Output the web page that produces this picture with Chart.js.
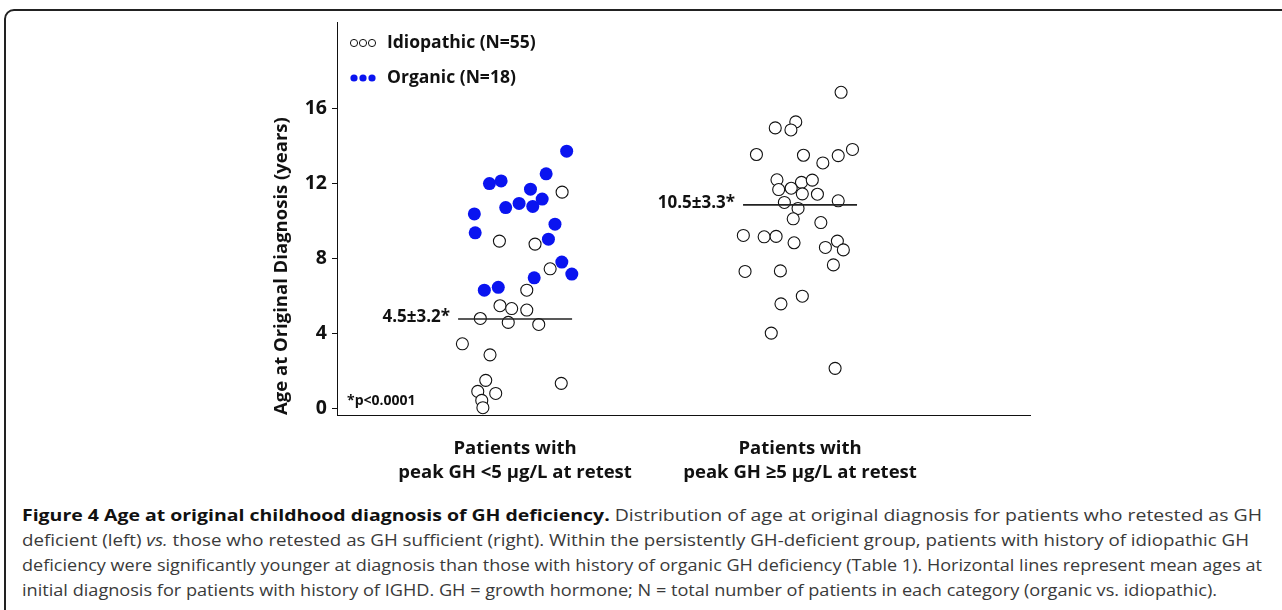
<!DOCTYPE html>
<html>
<head>
<meta charset="utf-8">
<script src="https://cdn.jsdelivr.net/npm/chart.js@4.4.1/dist/chart.umd.min.js"></script>
<style>
  body { margin: 0; background: #fff; width: 1282px; height: 610px; overflow: hidden; position: relative; }
  #frame { position: absolute; left: 4px; top: 9px; width: 1300px; height: 700px; border: 2px solid #222; border-radius: 10px; box-sizing: border-box; }
  #wrap { position: absolute; left: 0; top: 0; width: 1282px; height: 490px; }
  #caption { position: absolute; left: 22px; top: 502px; font-family: "Open Sans", sans-serif; font-size: 16.5px; line-height: 25px; color: #3a3a3a; white-space: nowrap; }
  #caption .cap { display: inline-block; transform-origin: 0 50%; }
  #caption b { color: #111; }
</style>
</head>
<body>
<div id="frame"></div>
<div id="wrap"><canvas id="ageChart"></canvas></div>
<div id="caption">
<div><span class="cap"><b>Figure 4 Age at original childhood diagnosis of GH deficiency.</b> Distribution of age at original diagnosis for patients who retested as GH</span></div>
<div><span class="cap">deficient (left) <i>vs.</i> those who retested as GH sufficient (right). Within the persistently GH-deficient group, patients with history of idiopathic GH</span></div>
<div><span class="cap">deficiency were significantly younger at diagnosis than those with history of organic GH deficiency (Table 1). Horizontal lines represent mean ages at</span></div>
<div><span class="cap">initial diagnosis for patients with history of IGHD. GH = growth hormone; N = total number of patients in each category (organic vs. idiopathic).</span></div>
</div>
<script>
// groups and axis labels
const groups = [1, 2];
const groupLabels = [
  ["Patients with", "peak GH <5 \u00b5g/L at retest"],
  ["Patients with", "peak GH \u22655 \u00b5g/L at retest"]
];
const yTicks = [0, 4, 8, 12, 16];

// left group (peak GH <5), organic
const orgLeftAge = [13.71, 11.98, 12.12, 11.68, 12.5, 10.36, 10.7, 10.92, 10.76, 11.15, 9.81, 9.35, 9.01, 7.79, 7.15, 6.95, 6.29, 6.44];
const orgLeftJitter = [0.181, -0.09, -0.049, 0.054, 0.109, -0.143, -0.033, 0.014, 0.062, 0.095, 0.14, -0.14, 0.117, 0.164, 0.199, 0.067, -0.108, -0.059];

// left group, idiopathic
const idioLeftAge = [11.52, 8.91, 8.75, 7.43, 6.29, 5.46, 5.31, 5.23, 4.78, 4.57, 4.46, 3.43, 2.84, 1.48, 1.32, 0.89, 0.78, 0.41, 0.02];
const idioLeftJitter = [0.165, -0.055, 0.07, 0.123, 0.041, -0.053, -0.012, 0.041, -0.122, -0.024, 0.083, -0.185, -0.088, -0.103, 0.162, -0.131, -0.068, -0.117, -0.113];

// right group (peak GH >=5), idiopathic
const idioRightAge = [16.85, 15.27, 14.95, 14.84, 13.53, 13.49, 13.08, 13.47, 13.8, 12.18, 12.04, 12.16, 11.66, 11.73, 11.43, 11.41, 11.06, 10.97, 10.65, 10.1, 9.9, 9.21, 9.14, 9.16, 8.82, 8.91, 8.57, 8.44, 7.64, 7.29, 7.32, 5.97, 5.56, 4.0, 2.12];
const idioRightJitter = [0.144, -0.015, -0.087, -0.032, -0.153, 0.012, 0.08, 0.134, 0.184, -0.081, 0.005, 0.043, -0.075, -0.031, 0.008, 0.061, 0.134, -0.055, -0.007, -0.024, 0.073, -0.199, -0.126, -0.084, -0.021, 0.131, 0.089, 0.152, 0.117, -0.193, -0.069, 0.008, -0.067, -0.101, 0.123];

// mean lines for idiopathic patients
const meanAge = [4.75, 10.84];
const meanLabels = ["4.5\u00b13.2*", "10.5\u00b13.3*"];
const meanHalfWidth = 0.2;

const FONT = "'Open Sans'";
const capWidths = [1240, 1227, 1240, 1195];

function toPoints(center, jitter, ages) {
  return ages.map((a, i) => ({ x: center + jitter[i], y: a }));
}

const meanSets = groups.map((g, i) => ({
  type: "line",
  data: [{ x: g - meanHalfWidth, y: meanAge[i] }, { x: g + meanHalfWidth, y: meanAge[i] }],
  borderColor: "#222",
  borderWidth: 1.6,
  pointRadius: 0,
  fill: false
}));

// legend, mean labels, p-value
const notesPlugin = {
  id: "notes",
  afterDatasetsDraw(chart) {
    const { ctx, scales: { x, y } } = chart;
    ctx.save();
    ctx.fillStyle = "#111";
    ctx.textBaseline = "middle";

    ctx.font = "bold 17px " + FONT;
    ctx.textAlign = "right";
    groups.forEach((g, i) => {
      ctx.fillText(meanLabels[i], x.getPixelForValue(g - meanHalfWidth) - 8, y.getPixelForValue(meanAge[i]) - 2);
    });

    ctx.textAlign = "left";
    ctx.font = "bold 14px " + FONT;
    ctx.fillText("*p<0.0001", 347, 401);

    // legend
    const rows = [
      { text: "Idiopathic (N=55)", yy: 43, fill: "#fff", stroke: "#111" },
      { text: "Organic (N=18)", yy: 78, fill: "#0a14f0", stroke: null }
    ];
    rows.forEach(r => {
      for (let k = 0; k < 3; k++) {
        ctx.beginPath();
        ctx.arc(354 + k * 9, r.yy, 3.6, 0, Math.PI * 2);
        ctx.fillStyle = r.fill;
        ctx.fill();
        if (r.stroke) { ctx.strokeStyle = r.stroke; ctx.lineWidth = 1; ctx.stroke(); }
      }
      ctx.fillStyle = "#111";
      ctx.font = "bold 17.5px " + FONT;
      ctx.fillText(r.text, 387, r.yy);
    });
    ctx.restore();
  }
};

function draw() {
  new Chart(document.getElementById("ageChart"), {
    type: "scatter",
    data: {
      datasets: [
        ...meanSets,
        {
          label: "Idiopathic (N=55)",
          data: toPoints(1, idioLeftJitter, idioLeftAge).concat(toPoints(2, idioRightJitter, idioRightAge)),
          backgroundColor: "#fff",
          borderColor: "#111",
          borderWidth: 1.1,
          pointRadius: 6
        },
        {
          label: "Organic (N=18)",
          data: toPoints(1, orgLeftJitter, orgLeftAge),
          backgroundColor: "#0a14f0",
          borderWidth: 0,
          pointRadius: 6.5
        }
      ]
    },
    options: {
      responsive: true,
      maintainAspectRatio: false,
      animation: false,
      layout: { padding: { left: 262, top: 22, right: 252, bottom: 0 } },
      plugins: { legend: { display: false }, tooltip: { enabled: false } },
      scales: {
        x: {
          type: "linear",
          min: 0.375,
          max: 2.807,
          grid: { display: false },
          border: { display: true, color: "#111", width: 1 },
          afterBuildTicks: s => { s.ticks = groups.map(v => ({ value: v })); },
          afterFit: s => { s.height = 75; },
          ticks: {
            autoSkip: false,
            maxRotation: 0,
            padding: 14,
            color: "#111",
            font: { family: FONT, weight: "bold", size: 18.5, lineHeight: 1.3 },
            callback: (v, i) => groupLabels[i]
          }
        },
        y: {
          min: -0.37,
          max: 20.6,
          grid: { drawOnChartArea: false, drawTicks: true, tickLength: 5, color: "#111" },
          border: { display: true, color: "#111", width: 1 },
          afterBuildTicks: s => { s.ticks = yTicks.map(v => ({ value: v })); },
          afterFit: s => { s.width = 75; },
          ticks: {
            padding: 5,
            color: "#111",
            font: { family: FONT, weight: "bold", size: 19.5 }
          },
          title: {
            display: true,
            text: "Age at Original Diagnosis (years)",
            align: "start",
            color: "#111",
            font: { family: FONT, weight: "bold", size: 18.5 },
            padding: { top: 9, bottom: 0 }
          }
        }
      }
    },
    plugins: [notesPlugin]
  });

  // fit caption lines to the figure width
  document.querySelectorAll("#caption .cap").forEach((el, i) => {
    el.style.transform = "scaleX(" + (capWidths[i] / el.getBoundingClientRect().width) + ")";
  });
}

document.fonts.load("bold 16px 'Open Sans'").then(draw, draw);
</script>
</body>
</html>
